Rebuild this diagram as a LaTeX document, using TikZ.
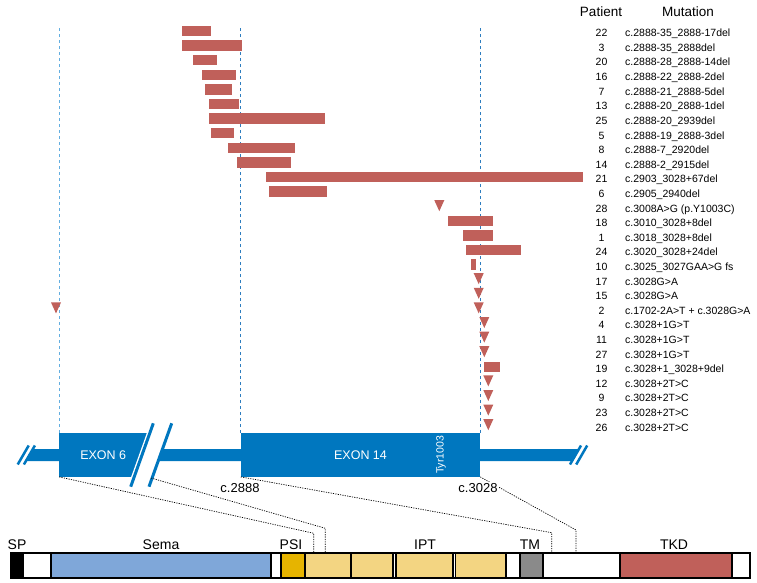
\documentclass[tikz,border=0pt]{standalone}
\usepackage{fontspec}
\setmainfont{Liberation Sans}
\usepackage{tikz}
\usetikzlibrary{arrows.meta}
\definecolor{exonBlue}{HTML}{0077BF}
\definecolor{guideLight}{HTML}{63AEE0}
\definecolor{guideDark}{HTML}{2D7DBF}
\definecolor{mutRed}{HTML}{C0605A}
\definecolor{semaBlue}{HTML}{7FA7D9}
\definecolor{psiGold}{HTML}{E6B400}
\definecolor{iptYellow}{HTML}{F3D582}
\definecolor{tmGrey}{HTML}{8A8A8A}

\begin{document}
\begin{tikzpicture}[x=1pt,y=-1pt,
        exon/.style={fill=exonBlue,text=white,inner sep=0pt,minimum height=43.4pt,font=\fontsize{12.5}{15}\selectfont},
        mutBar/.style={fill=mutRed},
        guideLine/.style={line width=1.1pt,dash pattern=on 3pt off 3pt},
        linkLine/.style={line width=0.7pt,dash pattern=on 1.2pt off 1.2pt},
        listText/.style={font=\fontsize{10.5}{12}\selectfont,inner sep=0pt},
        headText/.style={font=\fontsize{13.5}{16}\selectfont,inner sep=0pt,anchor=base},
        domLabel/.style={font=\fontsize{14}{16}\selectfont,inner sep=0pt,anchor=base},
        posLabel/.style={font=\fontsize{13}{15}\selectfont,fill=white,inner sep=1pt},
        cutMark/.style={exonBlue,line width=2.5pt}]
        \def\rowGap{14.6}
        \def\barTop{31}
        \def\textTop{33}
        \def\barHalf{5.2}

        \useasboundingbox (0,0) rectangle (757,583);

        \fill[exonBlue] (25.9,461) -- (32.9,449) -- (579,449) -- (572,461) -- cycle;
        \foreach \xm in {23.2,29.4,575.5,581.7}
            \draw[cutMark] (\xm-5.5,464.5) -- ++(11,-19);

        \node[exon,minimum width=87.7pt] (exon6) at (103.2,455) {EXON 6};
        \node[exon,minimum width=239pt] (exon14) at (360.5,455) {EXON 14};
        \node[font=\fontsize{10.5}{12}\selectfont,text=white,rotate=90,inner sep=0pt] (tyr) at (441,455) {Tyr1003};

        \fill[white] (147.9,430) -- (169.3,430) -- (151.5,480) -- (130.05,480) -- cycle;
        \draw[cutMark,line width=3pt] (153.3,423.3) -- (130.7,486.7);
        \draw[cutMark,line width=3pt] (171.7,423.3) -- (149,486.7);
        \coordinate (cutFoot) at (151,478);

        \draw[guideLine,guideLight] (exon6.north west) -- ++(0,-407.3);
        \draw[guideLine,guideDark] (exon14.north west) -- ++(0,-407.3);
        \draw[guideLine,guideDark] (exon14.north east) -- ++(0,-407.3);

        \foreach \i/\xa/\xb in {0/182/211,1/182/241.7,2/193/217,3/202/236,4/205.3/232.3,5/209/238.7,
                6/209/325.3,7/211.3/234,8/228/295.3,9/237.3/290.7,10/266/583.3,11/268.7/327,
                13/447.7/492.7,14/463/492.7,15/466/521.3,16/471/476,23/483.7/499.7}
            \fill[mutBar] (\xa,{\barTop+\i*\rowGap-\barHalf}) rectangle (\xb,{\barTop+\i*\rowGap+\barHalf});
        \foreach \i/\xc in {12/439.3,17/478.7,18/478.7,19/478.7,19/56,20/484.3,21/484.3,22/484.3,
                24/488.3,25/488.3,26/488.3,27/488.3}
            \fill[mutBar] ({\xc-5},{\barTop+\i*\rowGap-6}) -- ++(10,0) -- ++(-5,11) -- cycle;

        \node[headText] (headPat) at (601,16.8) {Patient};
        \node[headText] (headMut) at (688,16.8) {Mutation};
        \foreach \pat/\mut [count=\i from 0] in {22/c.2888-35\_2888-17del,3/c.2888-35\_2888del,
                20/c.2888-28\_2888-14del,16/c.2888-22\_2888-2del,7/c.2888-21\_2888-5del,
                13/c.2888-20\_2888-1del,25/c.2888-20\_2939del,5/c.2888-19\_2888-3del,
                8/c.2888-7\_2920del,14/c.2888-2\_2915del,21/c.2903\_3028+67del,6/c.2905\_2940del,
                28/c.3008A>G (p.Y1003C),18/c.3010\_3028+8del,1/c.3018\_3028+8del,
                24/c.3020\_3028+24del,10/c.3025\_3027GAA>G fs,17/c.3028G>A,15/c.3028G>A,
                2/c.1702-2A>T + c.3028G>A,4/c.3028+1G>T,11/c.3028+1G>T,27/c.3028+1G>T,
                19/c.3028+1\_3028+9del,12/c.3028+2T>C,9/c.3028+2T>C,23/c.3028+2T>C,26/c.3028+2T>C}{
            \node[listText,anchor=base] (pat\i) at (601.5,{\textTop+\i*\rowGap+3.8}) {\pat};
            \node[listText,anchor=base west] (mut\i) at (625,{\textTop+\i*\rowGap+3.8}) {\mut};
        }

        \coordinate (protTop) at (0,553.3);
        \coordinate (bendA) at (313.8,533.3);
        \coordinate (bendB) at (325.3,528.3);
        \coordinate (bendC) at (551.7,532.7);
        \coordinate (bendD) at (576,530);
        \draw[linkLine] (exon6.south west) -- (bendA) -- (bendA |- protTop);
        \draw[linkLine] (cutFoot) -- (bendB) -- (bendB |- protTop);
        \draw[linkLine] (exon14.south west) -- (bendC) -- (bendC |- protTop);
        \draw[linkLine] (exon14.south east) -- (bendD) -- (bendD |- protTop);
        \node[posLabel] (pos2888) at (240,488) {c.2888};
        \node[posLabel] (pos3028) at (478,488) {c.3028};

        \foreach \xa/\xb/\col in {10.7/23/black,23/51/white,51/271/semaBlue,271/281/white,
                281/305/psiGold,305/351/iptYellow,351/393/iptYellow,393/396/white,
                396/453/iptYellow,453/455.5/white,455.5/506/iptYellow,506/520/white,
                520/543/tmGrey,543/620/white,620/732/mutRed,732/750/white}
            \filldraw[fill=\col,draw=black,line width=1.2pt] (\xa,553.3) rectangle (\xb,578.3);
        \draw[line width=2pt] (10.7,553.3) rectangle (750,578.3);

        \node[domLabel] (lblSP) at (17,549) {SP};
        \node[domLabel] (lblSema) at (161,549) {Sema};
        \node[domLabel] (lblPSI) at (291,549) {PSI};
        \node[domLabel] (lblIPT) at (425,549) {IPT};
        \node[domLabel] (lblTM) at (530,549) {TM};
        \node[domLabel] (lblTKD) at (674,549) {TKD};
    \end{tikzpicture}
\end{document}
